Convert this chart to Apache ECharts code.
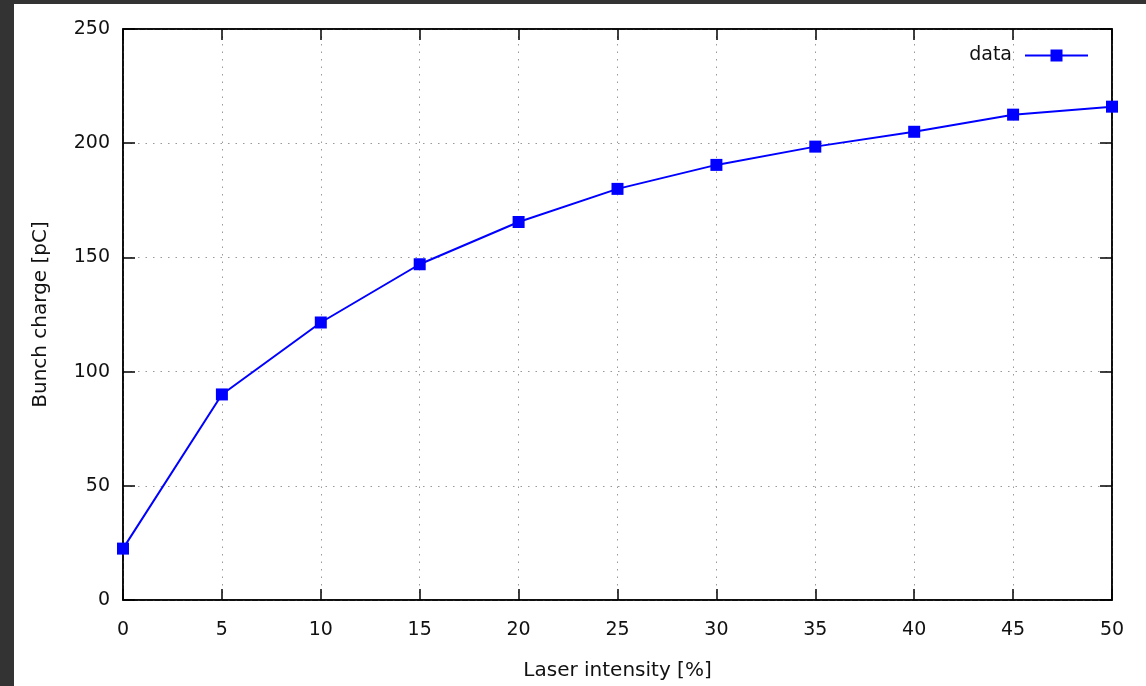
<!DOCTYPE html>
<html>
<head>
<meta charset="utf-8">
<script src="https://cdn.jsdelivr.net/npm/echarts@6/dist/echarts.min.js"></script>
<style>
  html, body { margin: 0; padding: 0; background: #333333; }
  #main {
    position: absolute;
    left: 14px;
    top: 4px;
    width: 1132px;
    height: 682px;
    background: #ffffff;
  }
</style>
</head>
<body>
<div id="main"></div>
<script>
// laser intensity [%]
const intensity = [0, 5, 10, 15, 20, 25, 30, 35, 40, 45, 50]
// bunch charge [pC]
const charge = [22.5, 90, 121.5, 147, 165.5, 180, 190.5, 198.5, 205, 212.5, 216]

const points = intensity.map((x, i) => [x, charge[i]])

const font = 'DejaVu Sans'
const textColor = '#111'

const axisLine = { show: true, onZero: false, lineStyle: { color: '#000', width: 1.5 } }
const tick = len => ({ show: true, inside: true, length: len, lineStyle: { color: '#000', width: 1.5 } })
const dotted = { show: true, lineStyle: { color: '#999', type: [1.5, 6], width: 1 } }

const chart = echarts.init(document.getElementById('main'))

const option = {
  animation: false,
  grid: {
    left: 109,
    top: 25,
    right: 34,
    bottom: 86,
    show: true,
    borderColor: '#000',
    borderWidth: 1.5,
    backgroundColor: '#fff'
  },
  legend: {
    right: 52,
    top: 37,
    align: 'right',
    itemWidth: 63,
    itemHeight: 15,
    textStyle: { fontFamily: font, fontSize: 19, color: textColor, padding: [2, 8, 0, 0] },
    data: ['data']
  },
  xAxis: [
    {
      type: 'value',
      min: 0,
      max: 50,
      interval: 5,
      name: 'Laser intensity [%]',
      nameLocation: 'middle',
      nameGap: 61,
      nameTextStyle: { fontFamily: font, fontSize: 20, color: textColor },
      axisLine: axisLine,
      axisTick: tick(11),
      axisLabel: { margin: 21, fontFamily: font, fontSize: 19, color: textColor },
      splitLine: dotted
    },
    {
      type: 'value',
      position: 'top',
      min: 0,
      max: 50,
      interval: 5,
      axisLine: axisLine,
      axisTick: tick(11),
      axisLabel: { show: false },
      splitLine: { show: false }
    }
  ],
  yAxis: [
    {
      type: 'value',
      min: 0,
      max: 250,
      interval: 50,
      name: 'Bunch charge [pC]',
      nameLocation: 'middle',
      nameGap: 72,
      nameTextStyle: { fontFamily: font, fontSize: 20, color: textColor },
      axisLine: axisLine,
      axisTick: tick(12),
      axisLabel: { margin: 13, fontFamily: font, fontSize: 19, color: textColor },
      splitLine: dotted
    },
    {
      type: 'value',
      position: 'right',
      min: 0,
      max: 250,
      interval: 50,
      axisLine: axisLine,
      axisTick: tick(12),
      axisLabel: { show: false },
      splitLine: { show: false }
    }
  ],
  series: [
    {
      name: 'data',
      type: 'line',
      xAxisIndex: 0,
      yAxisIndex: 0,
      data: points,
      symbol: 'rect',
      symbolSize: 12,
      lineStyle: { color: '#0000ff', width: 2 },
      itemStyle: { color: '#0000ff' }
    }
  ]
}

chart.setOption(option)
</script>
</body>
</html>
